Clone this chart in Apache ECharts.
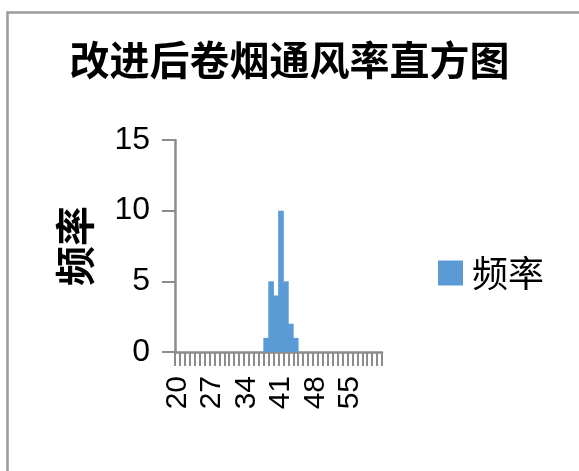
<!DOCTYPE html>
<html>
<head>
<meta charset="utf-8">
<script src="https://cdn.jsdelivr.net/npm/echarts@6/dist/echarts.min.js"></script>
<style>
  html, body { margin: 0; padding: 0; background: #ffffff; }
  #chart { width: 579px; height: 471px; }
</style>
</head>
<body>
<div id="chart"></div>
<script>
// Ventilation-rate bins (%) and frequency counts
const bins = [20, 21, 22, 23, 24, 25, 26, 27, 28, 29, 30, 31, 32, 33,
              34, 35, 36, 37, 38, 39, 40, 41, 42, 43, 44, 45, 46, 47,
              48, 49, 50, 51, 52, 53, 54, 55, 56, 57, 58, 59, 60, 61];
const frequency = [0, 0, 0, 0, 0, 0, 0, 0, 0, 0, 0, 0, 0, 0,
                   0, 0, 0, 0, 1, 5, 4, 10, 5, 2, 1, 0, 0, 0,
                   0, 0, 0, 0, 0, 0, 0, 0, 0, 0, 0, 0, 0, 0];
const yTicks = [0, 5, 10, 15];

const axisGrey = '#8c8c8c';
const barBlue = '#5b9bd5';
const chart = echarts.init(document.getElementById('chart'), null, { renderer: 'canvas' });

chart.setOption({
  backgroundColor: '#ffffff',
  animation: false,
  title: {
    text: '改进后卷烟通风率直方图',
    left: 'center',
    top: 35,
    textStyle: {
      fontFamily: 'Noto Sans CJK SC',
      fontWeight: 'bold',
      fontSize: 40,
      color: '#000000'
    }
  },
  legend: {
    data: ['频率'],
    left: 433,
    top: 250,
    icon: 'rect',
    itemWidth: 25,
    itemHeight: 25,
    itemGap: 10,
    textStyle: {
      fontFamily: 'Noto Sans CJK SC',
      fontSize: 36,
      color: '#000000',
      padding: [0, 0, 0, 4]
    }
  },
  grid: { left: 175, right: 197, top: 140, bottom: 119, containLabel: false },
  xAxis: {
    type: 'category',
    data: bins,
    boundaryGap: true,
    axisLine: { show: true, lineStyle: { color: axisGrey, width: 2.5 } },
    axisTick: { show: true, interval: 0, length: 14, lineStyle: { color: axisGrey, width: 2 } },
    axisLabel: {
      interval: 6,
      rotate: 90,
      margin: 24,
      fontFamily: 'Liberation Sans',
      fontSize: 30,
      color: '#000000'
    },
    splitLine: { show: false }
  },
  yAxis: {
    type: 'value',
    min: yTicks[0],
    max: yTicks[yTicks.length - 1],
    interval: yTicks[1] - yTicks[0],
    name: '频率',
    nameLocation: 'middle',
    nameRotate: 90,
    nameGap: 80,
    nameTextStyle: {
      fontFamily: 'Noto Sans CJK SC',
      fontWeight: 'bold',
      fontSize: 40,
      color: '#000000'
    },
    axisLine: { show: true, lineStyle: { color: axisGrey, width: 2.5 } },
    axisTick: { show: true, length: 13, lineStyle: { color: axisGrey, width: 2 } },
    axisLabel: {
      margin: 25,
      fontFamily: 'Liberation Sans',
      fontSize: 32,
      color: '#000000'
    },
    splitLine: { show: false }
  },
  series: [{
    name: '频率',
    type: 'bar',
    data: frequency,
    barWidth: '115%',
    itemStyle: { color: barBlue }
  }],
  graphic: [{
    type: 'rect',
    left: 5,
    top: 10,
    shape: { width: 700, height: 600 },
    style: { fill: 'none', stroke: '#9a9a9a', lineWidth: 2.5 },
    silent: true
  }]
});
</script>
</body>
</html>
